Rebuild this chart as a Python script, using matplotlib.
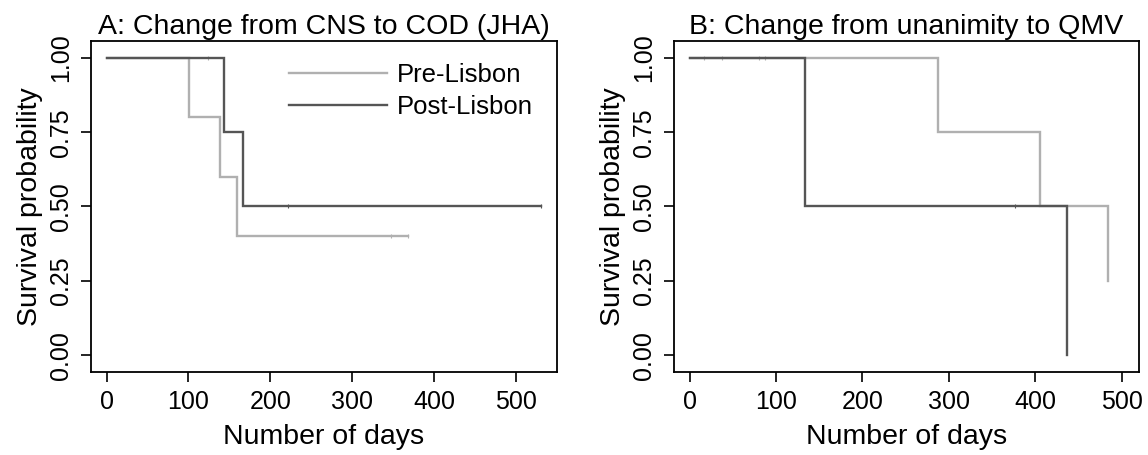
import matplotlib
matplotlib.use("Agg")
import matplotlib.pyplot as plt

plt.rcParams['font.family'] = ['Liberation Sans', 'DejaVu Sans']

# Panel A: Change from CNS to COD (JHA)
a_pre_times = [0, 101, 138, 159, 368]
a_pre_surv = [1.0, 0.8, 0.6, 0.4, 0.4]
a_pre_cens_t = [124, 347, 368]
a_pre_cens_s = [1.0, 0.4, 0.4]
a_post_times = [0, 144, 166, 531]
a_post_surv = [1.0, 0.75, 0.5, 0.5]
a_post_cens_t = [221, 531]
a_post_cens_s = [0.5, 0.5]

# Panel B: Change from unanimity to QMV
b_pre_times = [0, 288, 406, 484]
b_pre_surv = [1.0, 0.75, 0.5, 0.25]
b_pre_cens_t = [17, 38, 80, 87]
b_pre_cens_s = [1.0, 1.0, 1.0, 1.0]
b_post_times = [0, 133, 437]
b_post_surv = [1.0, 0.5, 0.0]
b_post_cens_t = [376]
b_post_cens_s = [0.5]

titles = ["A: Change from CNS to COD (JHA)", "B: Change from unanimity to QMV"]
series_labels = ["Pre-Lisbon", "Post-Lisbon"]
xticks = [0, 100, 200, 300, 400, 500]
yticks = [0.0, 0.25, 0.5, 0.75, 1.0]
ytick_labels = ["0.00", "0.25", "0.50", "0.75", "1.00"]

c_pre = "#b0b0b0"
c_post = "#555555"
lw = 1.7

fig = plt.figure(figsize=(11.48, 4.55), dpi=100)
axA = fig.add_axes([91/1148, (455-372)/455, (557-91)/1148, (372-41)/455])
axB = fig.add_axes([674/1148, (455-372)/455, (1139-674)/1148, (372-41)/455])

panels = [
    (axA, (a_pre_times, a_pre_surv, a_pre_cens_t, a_pre_cens_s),
          (a_post_times, a_post_surv, a_post_cens_t, a_post_cens_s), (-19, 550)),
    (axB, (b_pre_times, b_pre_surv, b_pre_cens_t, b_pre_cens_s),
          (b_post_times, b_post_surv, b_post_cens_t, b_post_cens_s), (-18, 520)),
]

for i, (ax, pre, post, xl) in enumerate(panels):
    for (t, s, ct, cs), col, lab in [(pre, c_pre, series_labels[0]), (post, c_post, series_labels[1])]:
        ax.step(t, s, where='post', color=col, lw=lw, label=lab, solid_joinstyle='miter')
        ax.plot(ct, cs, linestyle='none', marker='|', markersize=2.5, markeredgewidth=0.8, color=col)
    ax.set_xlim(*xl)
    ax.set_ylim(-0.057, 1.057)
    ax.set_xticks(xticks)
    ax.set_xticklabels([str(x) for x in xticks])
    ax.set_yticks(yticks)
    ax.set_yticklabels(ytick_labels, rotation=90, va='center')
    ax.tick_params(direction='out', length=7, width=1.2, labelsize=18, pad=6)
    for sp in ax.spines.values():
        sp.set_linewidth(1.3)
    ax.set_xlabel("Number of days", fontsize=20.5, labelpad=7)
    ax.set_ylabel("Survival probability", fontsize=20.5, labelpad=4)
    ax.set_title(titles[i], fontsize=20.5, pad=5)

axA.legend(loc='upper left', frameon=False, fontsize=18.5, handlelength=3.8,
           handletextpad=0.4, labelspacing=0.33, borderpad=0, borderaxespad=0,
           bbox_to_anchor=(0.425, 0.935))

fig.savefig("out.png", dpi=100)
